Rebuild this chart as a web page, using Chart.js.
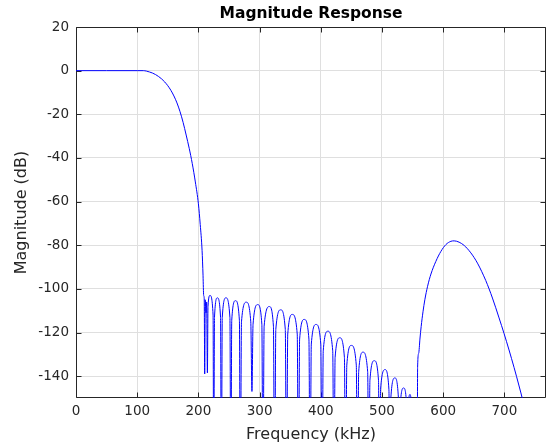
<!DOCTYPE html>
<html><head><meta charset="utf-8">
<script src="https://cdn.jsdelivr.net/npm/chart.js@4.4.1/dist/chart.umd.min.js"></script>
<style>html,body{margin:0;padding:0;background:#fff;}</style>
</head><body>
<canvas id="c" width="547" height="447" style="display:block;width:547px;height:447px"></canvas>
<script>
// Frequency (kHz) and magnitude (dB)
const freqKHz = [
  0, 50, 100, 110, 115, 120, 125, 130, 135, 140, 145, 150, 155, 160, 165, 170, 175, 180, 185, 190, 195, 200, 203, 206, 207.6, 208.6,
  209.5, 210.3, 211.2, 212.4, 213.5, 214.7, 215.7, 219, 224, 225,
  226.3, 231, 236.2, 237.5,
  239.0, 245, 251.5, 253,
  254.5, 260.6, 267.0, 268.5,
  270.4, 278.3, 285.6, 287.5,
  289.3, 297, 303.7, 305.5,
  307.4, 316, 322.6, 324.5,
  326.5, 334.5, 342.0, 344,
  346.0, 353.5, 361.5, 363.5,
  365.4, 373, 380.6, 382.5,
  384.5, 392.3, 400.0, 402,
  404.0, 411.6, 419.5, 421.5,
  423.4, 431, 438.6, 440.5,
  442.5, 450, 458.0, 460,
  461.9, 469, 476.6, 478.5,
  480.3, 487.5, 494.3, 496,
  497.7, 505, 511.3, 513,
  514.5, 521, 526.8, 528.3,
  529.6, 535.3, 540.5, 541.8,
  542.5, 545.8, 548.3, 549,
  553, 557.5,
  558.2, 560, 562, 564, 567, 570, 574.5, 580, 588, 596.3, 604.4, 612.6, 618, 626, 634.3, 645.2, 656, 669.6,
  680.5, 691.3, 699.5, 707.6, 715.8, 724, 730, 735, 768
];
const magDB = [
  0, 0, 0, 0, -0.2, -0.6, -1.1, -1.8, -2.7, -3.8, -5.2, -6.9, -9.0, -11.6, -14.8, -18.8, -23.7, -29.5, -35.6, -42.6, -51.0, -61.0, -70.5, -82.3, -94, -103,
  -104.5, -139, -105, -111, -106, -138.5, -108, -103, -112, -200,
  -113.1, -104.1, -113.1, -200,
  -113.1, -104.1, -113.1, -200,
  -114.4, -105.4, -114.4, -200,
  -115.1, -106.1, -115.1, -147,
  -116.2, -107.2, -116.2, -200,
  -117.1, -108.1, -117.1, -200,
  -118.6, -109.6, -118.6, -200,
  -120.7, -111.7, -120.7, -200,
  -123, -114, -123, -200,
  -125.3, -116.3, -125.3, -200,
  -128.4, -119.4, -128.4, -200,
  -131.4, -122.4, -131.4, -200,
  -134.9, -125.9, -134.9, -200,
  -138, -129, -138, -200,
  -141.9, -132.9, -141.9, -200,
  -146, -137, -146, -200,
  -149.8, -140.8, -149.8, -200,
  -154.4, -145.4, -154.4, -200,
  -157.4, -148.4, -157.4, -200,
  -165, -200,
  -136, -129.5, -123, -117.3, -110.5, -105, -98.8, -93.2, -87.4, -82.8, -79.7, -78.2, -78, -78.6, -80.1, -83.5, -88.2, -96.2,
  -104.2, -113.3, -120.5, -128, -136, -144.5, -151, -157, -200
];
const xTickVals = [0, 100, 200, 300, 400, 500, 600, 700];
const yTickVals = [-140, -120, -100, -80, -60, -40, -20, 0, 20];
const xRange = [0, 768];
const yRange = [-150, 20];

const AX = '#262626';
const FONT = 'DejaVu Sans';

const boxPlugin = {
  id: 'box',
  beforeDatasetsDraw(chart) {
    const {ctx, chartArea: a, scales: {x, y}} = chart;
    ctx.save();
    ctx.strokeStyle = AX;
    ctx.lineWidth = 1;
    const L = Math.round(a.left) + 0.5, R = Math.round(a.right) - 0.5;
    const T = Math.round(a.top) + 0.5, B = Math.round(a.bottom) - 0.5;
    ctx.beginPath();
    ctx.rect(L, T, R - L, B - T);
    const tl = 5;
    x.ticks.forEach(t => {
      const px = Math.round(x.getPixelForValue(t.value)) + 0.5;
      ctx.moveTo(px, B); ctx.lineTo(px, B - tl);
      ctx.moveTo(px, T); ctx.lineTo(px, T + tl);
    });
    y.ticks.forEach(t => {
      const py = Math.round(y.getPixelForValue(t.value)) + 0.5;
      ctx.moveTo(L, py); ctx.lineTo(L + tl, py);
      ctx.moveTo(R, py); ctx.lineTo(R - tl, py);
    });
    ctx.stroke();
    ctx.restore();
  }
};

new Chart(document.getElementById('c'), {
  type: 'scatter',
  data: {
    datasets: [{
      data: freqKHz.map((f, i) => ({x: f, y: magDB[i]})),
      showLine: true,
      borderColor: '#0000ff',
      borderWidth: 1,
      pointRadius: 0,
      cubicInterpolationMode: 'monotone',
      capBezierPoints: false
    }]
  },
  options: {
    responsive: false,
    animation: false,
    devicePixelRatio: 1,
    layout: {padding: {left: 0, right: 1, top: 0, bottom: 0}},
    elements: {line: {capBezierPoints: false}},
    plugins: {
      legend: {display: false},
      tooltip: {enabled: false},
      title: {
        display: true,
        text: 'Magnitude Response',
        fullSize: false,
        color: '#000',
        font: {family: FONT, size: 15.5, weight: 'bold'},
        padding: {top: 5, bottom: 3.4}
      }
    },
    scales: {
      x: {
        type: 'linear',
        min: xRange[0], max: xRange[1],
        afterBuildTicks: s => { s.ticks = xTickVals.map(v => ({value: v})); },
        afterFit: s => { s.height = 49; },
        grid: {color: '#dfdfdf', drawTicks: false},
        border: {display: false},
        ticks: {color: AX, font: {family: FONT, size: 13.5}, padding: 5.5, maxRotation: 0, autoSkip: false},
        title: {display: true, text: 'Frequency (kHz)', color: AX, font: {family: FONT, size: 16}, padding: {top: 0, bottom: 3}}
      },
      y: {
        type: 'linear',
        min: yRange[0], max: yRange[1],
        afterBuildTicks: s => { s.ticks = yTickVals.map(v => ({value: v})); },
        afterFit: s => { s.width = 76; },
        grid: {color: '#dfdfdf', drawTicks: false},
        border: {display: false},
        ticks: {color: AX, font: {family: FONT, size: 13.5}, padding: 7, autoSkip: false},
        title: {display: true, text: 'Magnitude (dB)', color: AX, font: {family: FONT, size: 16}, padding: {top: 12.5, bottom: 0}}
      }
    }
  },
  plugins: [boxPlugin]
});
</script>
</body></html>
